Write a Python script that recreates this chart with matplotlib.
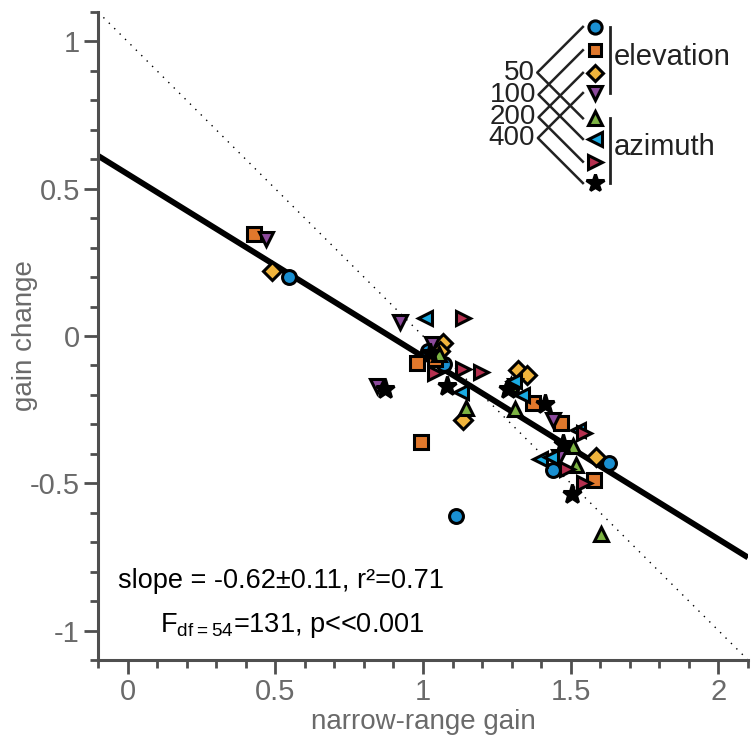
import numpy as np
import matplotlib
matplotlib.use("Agg")
import matplotlib.pyplot as plt

plt.rcParams['font.family'] = ['Liberation Sans', 'DejaVu Sans']
plt.rcParams['mathtext.fontset'] = 'custom'
plt.rcParams['mathtext.rm'] = 'Liberation Sans'

# conditions: (range, dimension) -> marker
cond_names = ["50 elev", "100 elev", "200 elev", "400 elev",
              "50 azim", "100 azim", "200 azim", "400 azim"]
markers = ['o', 's', 'D', 'v', '^', '<', '>', '*']
colors = ['#1a8fd1', '#e0782c', '#f0b43c', '#8c4a9c',
          '#7cb342', '#1aabe3', '#b5304f', '#000000']

# narrow-range gain (x) and gain change (y), per condition
x_50_elev = [0.547, 1.071, 1.111, 1.628, 1.439, 1.017, 1.300]
y_50_elev = [0.201, -0.095, -0.612, -0.432, -0.456, -0.051, -0.170]
x_100_elev = [0.429, 1.041, 0.980, 0.993, 1.372, 1.466, 1.578]
y_100_elev = [0.347, -0.078, -0.092, -0.361, -0.228, -0.296, -0.490]
x_200_elev = [0.490, 1.068, 1.135, 1.321, 1.351, 1.584, 1.057]
y_200_elev = [0.221, -0.024, -0.286, -0.116, -0.133, -0.412, -0.050]
x_400_elev = [0.470, 0.922, 1.030, 0.845, 1.439, 1.459, 1.311]
y_400_elev = [0.330, 0.048, -0.027, -0.170, -0.286, -0.412, -0.170]
x_50_azim = [1.054, 1.145, 1.311, 1.507, 1.517, 1.601, 1.297]
y_50_azim = [-0.061, -0.245, -0.248, -0.374, -0.439, -0.673, -0.167]
x_100_azim = [1.007, 1.128, 1.307, 1.334, 1.524, 1.395, 1.432]
y_100_azim = [0.061, -0.190, -0.153, -0.201, -0.320, -0.418, -0.412]
x_200_azim = [1.135, 1.041, 1.135, 1.196, 1.544, 1.486, 1.544]
y_200_azim = [0.061, -0.126, -0.112, -0.122, -0.330, -0.452, -0.500]
x_400_azim = [1.081, 0.872, 1.287, 1.412, 1.473, 1.503, 1.024]
y_400_azim = [-0.170, -0.180, -0.180, -0.231, -0.367, -0.537, -0.058]

xs = [x_50_elev, x_100_elev, x_200_elev, x_400_elev,
      x_50_azim, x_100_azim, x_200_azim, x_400_azim]
ys = [y_50_elev, y_100_elev, y_200_elev, y_400_elev,
      y_50_azim, y_100_azim, y_200_azim, y_400_azim]

fit_slope = -0.62
fit_intercept = 0.55

range_labels = ["50", "100", "200", "400"]

grey = '#4f4f4f'
txt_grey = '#6a6a6a'

fig = plt.figure(figsize=(7.51, 7.42), dpi=100)
ax = fig.add_axes([98/751, 82/742, 650/751, 648/742])

xlim = (-0.1, 2.1)
ylim = (-1.1, 1.1)

# identity (no change) line and regression fit
xx = np.array(xlim)
ax.plot(xx, 1 - xx, color='k', lw=1.0, linestyle=(0, (1, 4.5)), zorder=1)
ax.plot(xx, fit_intercept + fit_slope * xx, color='k', lw=4.2, zorder=2,
        solid_capstyle='butt')

sizes = [10, 9.5, 9, 10.5, 10.5, 10.5, 10.5, 14]
for x, y, m, c, s in zip(xs, ys, markers, colors, sizes):
    ax.plot(x, y, linestyle='none', marker=m, markersize=s, markerfacecolor=c,
            markeredgecolor='k', markeredgewidth=2.2, zorder=3)

ax.set_xlim(*xlim)
ax.set_ylim(*ylim)
ax.set_xticks([0, 0.5, 1, 1.5, 2])
ax.set_xticklabels(["0", "0.5", "1", "1.5", "2"])
ax.set_yticks([-1, -0.5, 0, 0.5, 1])
ax.set_yticklabels(["-1", "-0.5", "0", "0.5", "1"])
ax.set_xticks(np.arange(-0.1, 2.11, 0.1), minor=True)
ax.set_yticks(np.arange(-1.1, 1.11, 0.1), minor=True)

for side in ['top', 'right']:
    ax.spines[side].set_visible(False)
for side in ['left', 'bottom']:
    ax.spines[side].set_color(grey)
    ax.spines[side].set_linewidth(2.2)
ax.tick_params(which='major', direction='out', length=10, width=2, color=grey,
               labelsize=21, labelcolor=txt_grey, pad=3)
ax.tick_params(which='minor', direction='out', length=6, width=2, color=grey)

ax.set_xlabel("narrow-range gain", fontsize=20, color=txt_grey, labelpad=2)
ax.set_ylabel("gain change", fontsize=20, color=txt_grey)
ax.yaxis.set_label_coords(-0.092, 0.5)

ax.text(0.031, 0.122, "slope = -0.62\u00b10.11, r\u00b2=0.71", transform=ax.transAxes,
        fontsize=19.5, va='center', ha='left')
ax.text(0.095, 0.054, r"F$_{\mathregular{df=54}}$=131, p<<0.001", transform=ax.transAxes,
        fontsize=19.5, va='center', ha='left')

# legend drawn by hand
mx = 0.765
my = [0.977, 0.941, 0.906, 0.875, 0.836, 0.804, 0.769, 0.736]
for yy, m, c, s in zip(my, markers, colors, sizes):
    ax.plot([mx], [yy], transform=ax.transAxes, linestyle='none', marker=m,
            markersize=s * 0.95, markerfacecolor=c, markeredgecolor='k',
            markeredgewidth=2.2, clip_on=False, zorder=4)

x_end = 0.746
for i, lab in enumerate(range_labels):
    y_top = my[i]
    y_bot = my[i + 4]
    y_mid = (y_top + y_bot) / 2
    half = (y_top - y_bot) / 2
    x_v = x_end - half * 648 / 650
    ax.plot([x_end, x_v, x_end], [y_top, y_mid, y_bot], transform=ax.transAxes,
            color='#222222', lw=1.8, clip_on=False)
    ax.text(x_v - 0.004, y_mid, lab, transform=ax.transAxes, fontsize=20,
            ha='right', va='center', color='#222222')

bx = 0.788
ax.plot([bx, bx], [my[0], my[3]], transform=ax.transAxes, color='#222222',
        lw=2.0, clip_on=False)
ax.plot([bx, bx], [my[4], my[7]], transform=ax.transAxes, color='#222222',
        lw=2.0, clip_on=False)
ax.text(bx + 0.006, (my[0] + my[3]) / 2 + 0.005, "elevation", transform=ax.transAxes,
        fontsize=21, ha='left', va='center', color='#222222')
ax.text(bx + 0.006, (my[4] + my[7]) / 2 + 0.005, "azimuth", transform=ax.transAxes,
        fontsize=21, ha='left', va='center', color='#222222')

fig.savefig("out.png", dpi=100)
